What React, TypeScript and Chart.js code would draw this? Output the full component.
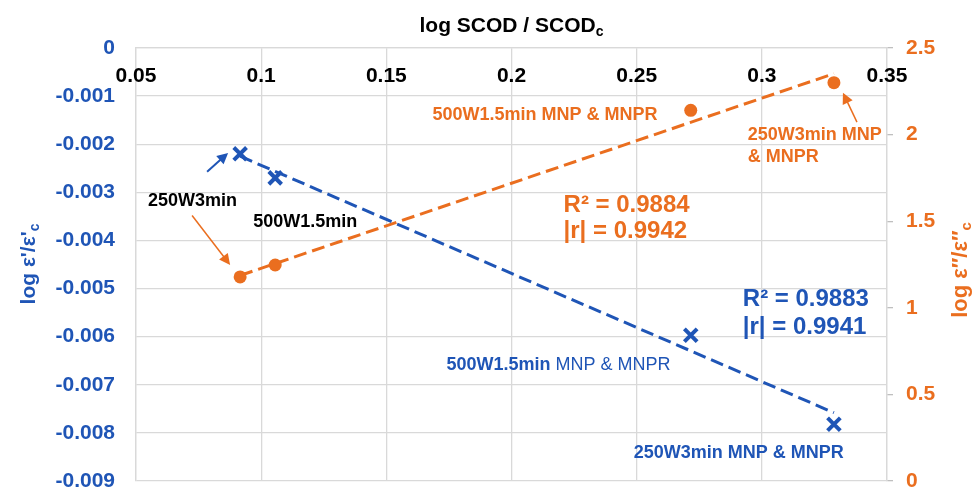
import React, { useEffect, useRef } from "react";
import { Chart, registerables } from "chart.js";

Chart.register(...registerables);

// log SCOD / SCOD_c for the four treatments
const logScodRatio = [0.0916, 0.1056, 0.2716, 0.3288];
// log ε'/ε'_c (left axis)
const logEpsPrime = [-0.0022, -0.0027, -0.00597, -0.00782];
// log ε''/ε''_c (right axis)
const logEpsDoublePrime = [1.178, 1.247, 2.14, 2.3];

const xTickRange = { min: 0.05, max: 0.35, step: 0.05 };
const leftTickRange = { min: -0.009, max: 0, step: 0.001 };
const rightTickRange = { min: 0, max: 2.5, step: 0.5 };

const BLUE = "#1F55B6";
const ORANGE = "#EA6E1F";
const GRID = "#D9D9D9";
const FONT = "'Liberation Sans', Arial, sans-serif";

// Least-squares line through the points, returned at the first and last x
function linearFit(xs: number[], ys: number[]) {
  const n = xs.length;
  const mx = xs.reduce((a, b) => a + b, 0) / n;
  const my = ys.reduce((a, b) => a + b, 0) / n;
  let sxy = 0;
  let sxx = 0;
  for (let i = 0; i < n; i++) {
    sxy += (xs[i] - mx) * (ys[i] - my);
    sxx += (xs[i] - mx) * (xs[i] - mx);
  }
  const slope = sxy / sxx;
  const icpt = my - slope * mx;
  const x0 = Math.min(...xs);
  const x1 = Math.max(...xs);
  return [
    { x: x0, y: icpt + slope * x0 },
    { x: x1, y: icpt + slope * x1 },
  ];
}

type Note = {
  parts: { text: string; bold: boolean }[];
  x: number;
  y: number;
  size: number;
  color: string;
};

// Text notes, anchored (left, middle) in x / left-axis units
const notes: Note[] = [
  { parts: [{ text: "250W3min", bold: true }], x: 0.0548, y: -0.00319, size: 18, color: "#000" },
  { parts: [{ text: "500W1.5min", bold: true }], x: 0.0968, y: -0.00362, size: 18, color: "#000" },
  { parts: [{ text: "500W1.5min MNP & MNPR", bold: true }], x: 0.1684, y: -0.0014, size: 18, color: ORANGE },
  { parts: [{ text: "250W3min MNP", bold: true }], x: 0.2944, y: -0.00181, size: 18, color: ORANGE },
  { parts: [{ text: "& MNPR", bold: true }], x: 0.2944, y: -0.00226, size: 18, color: ORANGE },
  { parts: [{ text: "R² = 0.9884", bold: true }], x: 0.2208, y: -0.00327, size: 24, color: ORANGE },
  { parts: [{ text: "|r| = 0.9942", bold: true }], x: 0.2208, y: -0.00381, size: 24, color: ORANGE },
  { parts: [{ text: "R² = 0.9883", bold: true }], x: 0.2924, y: -0.00523, size: 24, color: BLUE },
  { parts: [{ text: "|r| = 0.9941", bold: true }], x: 0.2924, y: -0.0058, size: 24, color: BLUE },
  {
    parts: [
      { text: "500W1.5min ", bold: true },
      { text: "MNP & MNPR", bold: false },
    ],
    x: 0.174,
    y: -0.00658,
    size: 18,
    color: BLUE,
  },
  { parts: [{ text: "250W3min MNP & MNPR", bold: true }], x: 0.2488, y: -0.00842, size: 18, color: BLUE },
];

// Pointer arrows, from tail to tip, in x / left-axis units
const arrows = [
  { x0: 0.0784, y0: -0.00257, x1: 0.0868, y1: -0.00218, color: BLUE, width: 2 },
  { x0: 0.0724, y0: -0.00348, x1: 0.0876, y1: -0.00451, color: ORANGE, width: 1.5 },
  { x0: 0.338, y0: -0.00154, x1: 0.3324, y1: -0.00093, color: ORANGE, width: 1.5 },
];

function fmt(v: number) {
  return String(Number(v.toFixed(4)));
}

const decorations = {
  id: "decorations",
  afterDraw(chart: any) {
    const { ctx, chartArea } = chart;
    const xs = chart.scales.x;
    const yl = chart.scales.y;
    ctx.save();

    // x tick labels sit just inside the top edge of the plot
    ctx.fillStyle = "#000";
    ctx.font = `bold 21px ${FONT}`;
    ctx.textAlign = "center";
    ctx.textBaseline = "middle";
    xs.ticks.forEach((t: any) => {
      ctx.fillText(fmt(t.value), xs.getPixelForValue(t.value), chartArea.top + 28);
    });

    // axis titles with subscripts
    const drawSubTitle = (
      main: string,
      sub: string,
      cx: number,
      cy: number,
      rot: number,
      color: string,
      weight: string,
      size: number
    ) => {
      ctx.save();
      ctx.translate(cx, cy);
      ctx.rotate(rot);
      ctx.fillStyle = color;
      ctx.textBaseline = "alphabetic";
      ctx.textAlign = "left";
      ctx.font = `${weight} ${size}px ${FONT}`;
      const w1 = ctx.measureText(main).width;
      const subSize = Math.round(size * 0.66);
      ctx.font = `${weight} ${subSize}px ${FONT}`;
      const w2 = ctx.measureText(sub).width;
      const start = -(w1 + w2) / 2;
      const base = size * 0.36;
      ctx.font = `${weight} ${size}px ${FONT}`;
      ctx.fillText(main, start, base);
      ctx.font = `${weight} ${subSize}px ${FONT}`;
      ctx.fillText(sub, start + w1, base + size * 0.2);
      ctx.restore();
    };
    drawSubTitle("log SCOD / SCOD", "c", (chartArea.left + chartArea.right) / 2, 24, 0, "#000", "bold", 21);
    drawSubTitle("log ε'/ε'", "c", 27, 264, -Math.PI / 2, BLUE, "bold", 21);
    drawSubTitle("log ε′′/ε′′", "c", 959, 270, -Math.PI / 2, ORANGE, "bold", 22);

    // arrows
    arrows.forEach((a) => {
      const px0 = xs.getPixelForValue(a.x0);
      const py0 = yl.getPixelForValue(a.y0);
      const px1 = xs.getPixelForValue(a.x1);
      const py1 = yl.getPixelForValue(a.y1);
      const ang = Math.atan2(py1 - py0, px1 - px0);
      const head = 11;
      const half = 5.5;
      ctx.strokeStyle = a.color;
      ctx.fillStyle = a.color;
      ctx.lineWidth = a.width;
      ctx.beginPath();
      ctx.moveTo(px0, py0);
      ctx.lineTo(px1 - Math.cos(ang) * head * 0.8, py1 - Math.sin(ang) * head * 0.8);
      ctx.stroke();
      ctx.beginPath();
      ctx.moveTo(px1, py1);
      ctx.lineTo(
        px1 - Math.cos(ang) * head - Math.sin(ang) * half,
        py1 - Math.sin(ang) * head + Math.cos(ang) * half
      );
      ctx.lineTo(
        px1 - Math.cos(ang) * head + Math.sin(ang) * half,
        py1 - Math.sin(ang) * head - Math.cos(ang) * half
      );
      ctx.closePath();
      ctx.fill();
    });

    // notes
    ctx.textAlign = "left";
    ctx.textBaseline = "middle";
    notes.forEach((n) => {
      let px = xs.getPixelForValue(n.x);
      const py = yl.getPixelForValue(n.y);
      ctx.fillStyle = n.color;
      n.parts.forEach((p) => {
        ctx.font = `${p.bold ? "bold " : ""}${n.size}px ${FONT}`;
        ctx.fillText(p.text, px, py);
        px += ctx.measureText(p.text).width;
      });
    });

    ctx.restore();
  },
};

export default function App() {
  const canvasRef = useRef<HTMLCanvasElement | null>(null);

  useEffect(() => {
    document.body.style.margin = "0";
    const canvas = canvasRef.current;
    if (!canvas) return;

    const bluePts = logScodRatio.map((x, i) => ({ x, y: logEpsPrime[i] }));
    const orangePts = logScodRatio.map((x, i) => ({ x, y: logEpsDoublePrime[i] }));

    const fixVertical = (width: number) => (s: any) => {
      s.width = width;
      s.paddingTop = 0;
      s.paddingBottom = 0;
    };

    const chart = new Chart(canvas, {
      type: "scatter",
      data: {
        datasets: [
          {
            data: bluePts,
            yAxisID: "y",
            pointStyle: "crossRot",
            pointRadius: 9,
            borderWidth: 4,
            borderColor: BLUE,
            backgroundColor: BLUE,
            showLine: false,
          },
          {
            data: orangePts,
            yAxisID: "y1",
            pointStyle: "circle",
            pointRadius: 6.5,
            borderWidth: 0,
            borderColor: ORANGE,
            backgroundColor: ORANGE,
            showLine: false,
          },
          {
            data: linearFit(logScodRatio, logEpsPrime),
            yAxisID: "y",
            showLine: true,
            pointRadius: 0,
            borderColor: BLUE,
            borderWidth: 3,
            borderDash: [13, 6],
          },
          {
            data: linearFit(logScodRatio, logEpsDoublePrime),
            yAxisID: "y1",
            showLine: true,
            pointRadius: 0,
            borderColor: ORANGE,
            borderWidth: 3,
            borderDash: [13, 6],
          },
        ],
      },
      options: {
        responsive: false,
        animation: false,
        layout: { padding: { left: 0, right: 0, top: 0, bottom: 7 } },
        plugins: {
          legend: { display: false },
          tooltip: { enabled: false },
        },
        scales: {
          x: {
            type: "linear",
            position: "top",
            min: xTickRange.min,
            max: xTickRange.max,
            ticks: { stepSize: xTickRange.step, display: false },
            grid: { color: GRID, lineWidth: 1.3, drawTicks: false },
            border: { color: GRID, width: 1.3 },
            afterFit: (s: any) => {
              s.height = 48;
              s.paddingLeft = 0;
              s.paddingRight = 0;
            },
          },
          y: {
            type: "linear",
            position: "left",
            min: leftTickRange.min,
            max: leftTickRange.max,
            ticks: {
              stepSize: leftTickRange.step,
              color: BLUE,
              font: { family: FONT, size: 21, weight: "bold" },
              padding: 21,
              callback: (v: any) => fmt(Number(v)),
            },
            grid: { color: GRID, lineWidth: 1.3, drawTicks: false },
            border: { color: GRID, width: 1.3 },
            afterFit: fixVertical(136),
          },
          y1: {
            type: "linear",
            position: "right",
            min: rightTickRange.min,
            max: rightTickRange.max,
            ticks: {
              stepSize: rightTickRange.step,
              color: ORANGE,
              font: { family: FONT, size: 21, weight: "bold" },
              padding: 13,
              callback: (v: any) => fmt(Number(v)),
            },
            grid: {
              drawOnChartArea: false,
              drawTicks: true,
              tickLength: 6,
              tickColor: "#BFBFBF",
              lineWidth: 1.3,
            },
            border: { color: GRID, width: 1.3 },
            afterFit: fixVertical(90),
          },
        },
      },
      plugins: [decorations],
    });

    return () => chart.destroy();
  }, []);

  return (
    <div style={{ width: 977, height: 494, background: "#fff" }}>
      <canvas ref={canvasRef} width={977} height={494} style={{ display: "block" }} />
    </div>
  );
}
